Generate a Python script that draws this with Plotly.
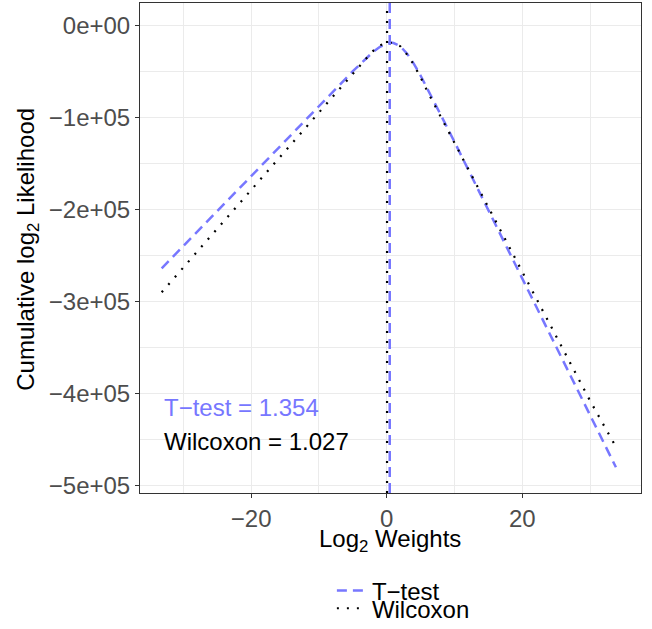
import math
import plotly.graph_objects as go

# Data (log2 weights vs cumulative log2 likelihood)
log2_weights = [-33.2, -30, -25, -20, -15, -10, -7, -5, -3, -2, -1, 0, 0.5, 1, 2, 3, 4, 5, 6, 8, 10, 15, 20, 25, 30, 33.8]
ttest_ll = [-2.64e5, -2.40e5, -2.02e5, -1.64e5, -1.26e5, -0.88e5, -0.65e5, -0.50e5, -0.36e5, -0.29e5,
            -0.235e5, -0.20e5, -0.19e5, -0.195e5, -0.23e5, -0.31e5, -0.42e5, -0.55e5, -0.69e5, -0.98e5,
            -1.27e5, -2.01e5, -2.75e5, -3.49e5, -4.23e5, -4.80e5]
wilcoxon_ll = [-2.90e5, -2.63e5, -2.21e5, -1.79e5, -1.36e5, -0.94e5, -0.69e5, -0.52e5, -0.36e5, -0.28e5,
               -0.22e5, -0.19e5, -0.19e5, -0.20e5, -0.23e5, -0.32e5, -0.43e5, -0.57e5, -0.72e5, -1.00e5,
               -1.28e5, -1.98e5, -2.68e5, -3.38e5, -4.08e5, -4.58e5]
ttest_best = 1.354      # best weight (vertical line drawn at its log2)
wilcoxon_best = 1.027

y_tickvals = [0, -1e5, -2e5, -3e5, -4e5, -5e5]
y_ticktext = ["0e+00", "\u22121e+05", "\u22122e+05", "\u22123e+05", "\u22124e+05", "\u22125e+05"]
x_tickvals = [-20, 0, 20]
x_ticktext = ["\u221220", "0", "20"]

BLUE = "#7777FF"
FONT = "Liberation Sans, Arial, sans-serif"
FS = 24
y_range = [-5.08e5, 0.24e5]

fig = go.Figure()
fig.add_trace(go.Scatter(x=log2_weights, y=ttest_ll, mode="lines", name="T\u2212test",
                         line=dict(color=BLUE, width=2.5, dash="10px,6px"), legend="legend"))
fig.add_trace(go.Scatter(x=log2_weights, y=wilcoxon_ll, mode="lines", name="Wilcoxon",
                         line=dict(color="black", width=2.2, dash="2px,8px"), legend="legend2"))
# vertical lines at best estimates (on log2 scale)
tx = math.log2(ttest_best)
wx = math.log2(wilcoxon_best)
fig.add_trace(go.Scatter(x=[tx, tx], y=y_range, mode="lines", showlegend=False,
                         line=dict(color=BLUE, width=2.5, dash="10px,6px"), hoverinfo="skip"))
fig.add_trace(go.Scatter(x=[wx, wx], y=y_range, mode="lines", showlegend=False,
                         line=dict(color="black", width=2.2, dash="2px,8px"), hoverinfo="skip"))

fig.add_annotation(x=-33.2, y=-4.15e5, text="T\u2212test = " + f"{ttest_best:.3f}", showarrow=False,
                   xanchor="left", yanchor="middle", font=dict(color=BLUE, size=FS, family=FONT))
fig.add_annotation(x=-33.2, y=-4.52e5, text="Wilcoxon = " + f"{wilcoxon_best:.3f}", showarrow=False,
                   xanchor="left", yanchor="middle", font=dict(color="black", size=FS, family=FONT))

# axis titles
fig.add_annotation(xref="paper", yref="paper", x=0.499, y=-0.097, text="Log<sub>2</sub> Weights",
                   showarrow=False, xanchor="center", yanchor="middle",
                   font=dict(size=FS, color="black", family=FONT))
fig.add_annotation(xref="paper", yref="paper", x=-0.224, y=0.498, text="Cumulative log<sub>2</sub> Likelihood",
                   showarrow=False, xanchor="center", yanchor="middle", textangle=-90,
                   font=dict(size=FS, color="black", family=FONT))

axis_common = dict(showline=True, linecolor="#333333", linewidth=1, mirror=True,
                   ticks="outside", ticklen=4, tickcolor="#333333", tickwidth=1,
                   showgrid=True, gridcolor="#EBEBEB", gridwidth=1.2, zeroline=False,
                   tickfont=dict(size=FS, color="#4D4D4D", family=FONT))

fig.update_xaxes(range=[-36.4, 37.5], tickvals=x_tickvals, ticktext=x_ticktext,
                 minor=dict(showgrid=True, dtick=10, tick0=0, gridcolor="#EBEBEB", gridwidth=0.7),
                 **axis_common)
fig.update_yaxes(range=y_range, tickvals=y_tickvals, ticktext=y_ticktext,
                 minor=dict(showgrid=True, dtick=5e4, tick0=0, gridcolor="#EBEBEB", gridwidth=0.7),
                 **axis_common)

legend_common = dict(orientation="v", xanchor="left", yanchor="middle", bgcolor="rgba(0,0,0,0)",
                     font=dict(size=FS, color="black", family=FONT), itemwidth=30)
fig.update_layout(
    width=652, height=629,
    margin=dict(l=140, r=11, t=3, b=136, autoexpand=False),
    paper_bgcolor="white", plot_bgcolor="white",
    font=dict(family=FONT),
    legend=dict(x=0.383, y=-0.200, **legend_common),
    legend2=dict(x=0.383, y=-0.236, **legend_common),
)

fig.write_html("out.html")
